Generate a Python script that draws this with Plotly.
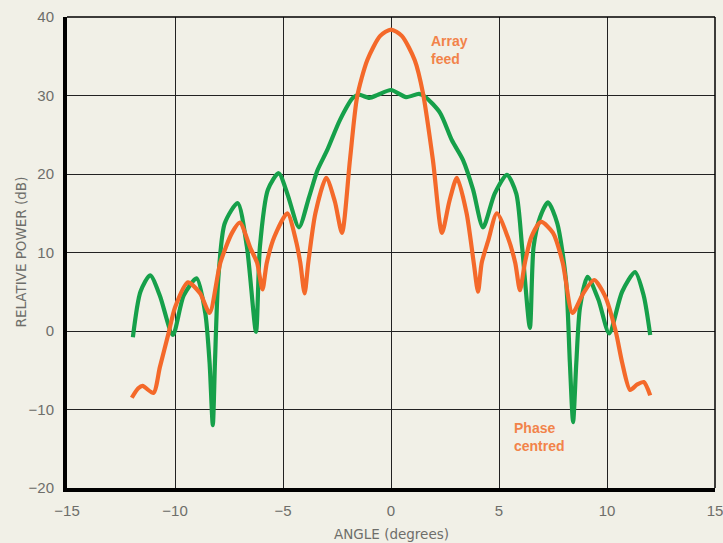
import plotly.graph_objects as go

# Array feed (orange)
array_x = [-12.0, -11.7, -11.5, -11.0, -10.7, -10.3, -10.0, -9.4, -8.84, -8.4, -7.9, -7.36, -7.0,
           -6.5, -6.2, -5.95, -5.75, -5.4, -4.8, -4.4, -4.2, -4.0, -3.83, -3.5, -3.0, -2.6, -2.27,
           -1.9, -1.57, -1.1, -0.5, 0.0, 0.5, 1.1, 1.48, 1.94, 2.36, 2.7, 3.05, 3.5, 3.83, 4.03, 4.2,
           4.5, 4.9, 5.4, 5.75, 5.97, 6.2, 6.5, 6.95, 7.5, 7.95, 8.4, 8.9, 9.4, 9.9, 10.4, 10.7,
           11.07, 11.4, 11.7, 12.0]
array_y = [-8.5, -7.3, -7.0, -7.9, -4.6, -0.3, 3.0, 6.2, 4.8, 2.3, 8.7, 12.5, 13.8,
           10.5, 8.7, 5.3, 8.7, 12.0, 15.0, 11.5, 8.7, 4.8, 8.7, 15.0, 19.5, 16.5, 12.5,
           21.8, 29.8, 34.5, 37.6, 38.4, 37.6, 34.5, 30.3, 21.8, 12.5, 16.5, 19.5, 15.0, 8.7, 5.0, 8.7,
           11.5, 15.0, 12.0, 8.7, 5.2, 8.7, 12.0, 13.9, 12.5, 8.7, 2.3, 4.8, 6.5, 4.5, 0.0, -4.0,
           -7.5, -6.8, -6.5, -8.2]

# Phase centred (green)
phase_x = [-11.95, -11.6, -11.15, -10.7, -10.1, -9.6, -9.0, -8.6, -8.4, -8.25, -8.15, -8.0, -7.7,
           -7.1, -6.67, -6.25, -6.07, -5.7, -5.2, -4.8, -4.26, -3.8, -3.4, -2.96, -2.36, -1.76,
           -1.5, -1.0, -0.6, 0.0, 0.7, 1.3, 1.6, 2.27, 2.82, 3.33, 3.8, 4.26, 4.8, 5.37, 5.8,
           6.07, 6.43, 6.6, 6.9, 7.27, 7.7, 8.1, 8.28, 8.43, 8.58, 8.75, 9.1, 9.6, 10.1, 10.7,
           11.3, 11.7, 12.0]
phase_y = [-0.8, 5.0, 7.1, 4.5, -0.5, 4.5, 6.7, 2.3, -4.0, -12.0, -4.0, 6.5, 13.7,
           16.3, 10.7, -0.1, 10.7, 18.0, 20.1, 17.5, 13.2, 17.0, 20.5, 23.0, 26.9, 29.7,
           30.1, 29.7, 30.1, 30.7, 29.8, 30.2, 29.8, 27.8, 24.3, 21.8, 18.0, 13.2, 17.5, 19.9, 17.5,
           10.7, 0.4, 10.7, 14.5, 16.4, 13.7, 6.5, -4.0, -11.6, -4.0, 3.0, 6.9, 4.0, -0.3, 5.0,
           7.5, 4.5, -0.5]

x_ticks = [-15, -10, -5, 0, 5, 10, 15]
y_ticks = [-20, -10, 0, 10, 20, 30, 40]

x_title = "ANGLE (degrees)"
y_title = "RELATIVE POWER (dB)"

bg = "#f1f0e7"
orange = "#f4692a"
green = "#16a04a"
text_grey = "#6e6e6a"

fig = go.Figure()
fig.add_trace(go.Scatter(x=phase_x, y=phase_y, mode="lines",
                         line=dict(color=green, width=4.2, shape="spline", smoothing=0.7),
                         hoverinfo="skip", showlegend=False))
fig.add_trace(go.Scatter(x=array_x, y=array_y, mode="lines",
                         line=dict(color=orange, width=4.2, shape="spline", smoothing=0.7),
                         hoverinfo="skip", showlegend=False))

lab_font = dict(family="Liberation Sans Narrow, Liberation Sans, Arial", size=14, color="#f2834a")
fig.add_annotation(x=1.75, y=35.8, xref="x", yref="y", text="<b>Array<br>feed</b>",
                   showarrow=False, xanchor="left", align="left", font=lab_font)
fig.add_annotation(x=5.6, y=-13.5, xref="x", yref="y", text="<b>Phase<br>centred</b>",
                   showarrow=False, xanchor="left", align="left", font=lab_font)

# axis titles
title_font = dict(family="DejaVu Sans, Liberation Sans, Arial", size=13.5, color=text_grey)
fig.add_annotation(x=0.5, y=-46 / 471, xref="paper", yref="paper", text=x_title,
                   showarrow=False, xanchor="center", yanchor="middle", font=title_font)
fig.add_annotation(x=-47 / 648, y=0.5, xref="paper", yref="paper", text=y_title, textangle=-90,
                   showarrow=False, xanchor="center", yanchor="middle", font=title_font)

# top and right thin borders
fig.add_shape(type="line", xref="paper", yref="paper", x0=0, x1=1, y0=1, y1=1,
              line=dict(color="black", width=1.5))
fig.add_shape(type="line", xref="paper", yref="paper", x0=1, x1=1, y0=0, y1=1,
              line=dict(color="black", width=1.5))

axis_font = dict(family="Liberation Sans, Arial", size=15, color=text_grey)
fig.update_layout(
    width=723, height=543,
    margin=dict(l=67, r=8, t=17, b=55, autoexpand=False),
    paper_bgcolor=bg, plot_bgcolor=bg,
    xaxis=dict(range=[-15, 15], tickvals=x_ticks, showgrid=True, gridcolor="#222222", gridwidth=1.2,
               showline=True, linecolor="black", linewidth=4, zeroline=False, automargin=False,
               tickfont=axis_font, ticks="", ticklabelstandoff=6, ticklabeloverflow="allow"),
    yaxis=dict(range=[-20, 40], tickvals=y_ticks, showgrid=True, gridcolor="#222222", gridwidth=1.2,
               showline=True, linecolor="black", linewidth=4, zeroline=False, automargin=False,
               tickfont=axis_font, ticks="", ticklabelstandoff=6, ticklabeloverflow="allow"),
)

fig.write_html("out.html", config={"displayModeBar": False},
               post_script="document.body.style.margin='0';document.body.style.background='" + bg + "';document.body.style.overflow='hidden';")
